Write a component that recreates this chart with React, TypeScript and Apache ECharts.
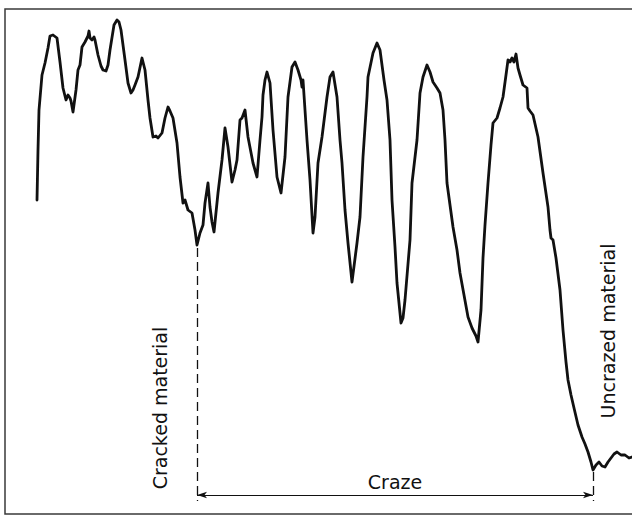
import React, { useEffect, useRef } from "react";
import * as echarts from "echarts";

// Trace of the craze profile: [position, depth below the frame top]
const profile: [number, number][] = [
  [37, 200], [38, 150], [39, 110], [42, 75], [45, 63], [48, 48], [50, 36], [53, 35], [57, 38],
  [60, 62], [63, 88], [66, 100], [68, 95], [70, 98], [71, 101], [73, 112], [76, 90], [78, 70],
  [80, 65], [82, 47], [85, 42], [88, 36], [89, 31], [90, 38], [92, 40], [94, 37], [95, 40],
  [98, 55], [101, 66], [103, 70], [106, 71], [108, 65], [110, 50], [114, 25], [117, 20],
  [119, 22], [121, 30], [123, 45], [125, 60], [128, 83], [131, 93], [133, 90], [135, 85],
  [138, 77], [142, 58], [145, 70], [148, 100], [150, 118], [153, 137], [156, 136], [158, 138],
  [162, 133], [165, 118], [168, 107], [170, 111], [173, 118], [177, 143], [180, 177],
  [183, 203], [185, 200], [188, 210], [192, 213], [195, 230], [197, 245], [200, 233],
  [203, 225], [205, 203], [208, 183], [210, 207], [212, 222], [214, 232], [218, 193],
  [222, 160], [225, 128], [228, 147], [232, 182], [235, 170], [237, 160], [240, 120],
  [242, 118], [245, 110], [248, 137], [253, 163], [257, 177], [260, 140], [262, 117],
  [263, 95], [265, 80], [267, 72], [270, 83], [273, 130], [277, 177], [281, 193], [285, 157],
  [288, 97], [292, 67], [295, 62], [298, 70], [301, 80], [302, 87], [303, 80], [305, 110],
  [307, 140], [310, 180], [313, 233], [315, 217], [318, 163], [322, 137], [327, 97],
  [330, 77], [333, 72], [337, 97], [340, 140], [342, 163], [345, 210], [348, 243], [352, 282],
  [357, 243], [360, 217], [363, 157], [367, 97], [368, 77], [373, 53], [377, 43], [380, 50],
  [384, 80], [387, 100], [390, 140], [392, 200], [395, 247], [397, 283], [401, 323],
  [403, 318], [405, 300], [410, 240], [412, 183], [417, 140], [420, 93], [423, 77], [427, 65],
  [430, 72], [433, 82], [437, 88], [440, 93], [443, 110], [445, 140], [447, 183], [450, 205],
  [453, 227], [457, 250], [460, 273], [464, 295], [468, 317], [472, 328], [476, 336],
  [478, 342], [481, 310], [483, 258], [485, 225], [488, 183], [491, 145], [493, 123],
  [497, 118], [500, 108], [503, 97], [506, 75], [508, 60], [510, 62], [512, 58], [514, 62],
  [516, 54], [518, 68], [520, 75], [523, 85], [527, 88], [528, 108], [530, 111], [533, 115],
  [538, 137], [543, 173], [548, 207], [550, 230], [551, 238], [553, 240], [556, 258],
  [560, 290], [563, 330], [566, 362], [568, 380], [571, 395], [574, 408], [578, 425],
  [582, 437], [585, 444], [588, 452], [591, 462], [593, 470], [596, 465], [599, 462],
  [602, 466], [605, 467], [608, 462], [611, 458], [614, 454], [617, 452], [621, 455],
  [625, 455], [629, 458], [632, 457],
];

// Boundaries of the craze zone (cracked side, uncrazed side)
const crazeBounds = [197, 593];
const boundaryTops = [248, 472];
const dimensionLevel = 495;
const boundaryBottom = 501;

const zoneLabels = ["Cracked material", "Craze", "Uncrazed material"];

export default function App() {
  const ref = useRef<HTMLDivElement>(null);

  useEffect(() => {
    if (!ref.current) return;
    const chart = echarts.init(ref.current, null, { renderer: "svg" });
    const font = "DejaVu Sans";

    chart.setOption({
      animation: false,
      backgroundColor: "#ffffff",
      grid: { left: 0, right: 0, top: 0, bottom: 0 },
      xAxis: { type: "value", min: 0, max: 632, show: false },
      yAxis: { type: "value", min: 0, max: 516, inverse: true, show: false },
      graphic: [
        {
          type: "rect",
          shape: { x: 5, y: 9, width: 640, height: 505 },
          style: { fill: "none", stroke: "#3a3a3a", lineWidth: 1.5 },
          silent: true,
        },
        {
          type: "text",
          x: 160,
          y: 408,
          rotation: Math.PI / 2,
          style: {
            text: zoneLabels[0],
            font: `19px "${font}"`,
            fill: "#111",
            align: "center",
            verticalAlign: "middle",
          },
        },
        {
          type: "text",
          x: 608,
          y: 331,
          rotation: Math.PI / 2,
          style: {
            text: zoneLabels[2],
            font: `19px "${font}"`,
            fill: "#111",
            align: "center",
            verticalAlign: "middle",
          },
        },
      ],
      series: [
        {
          type: "line",
          data: profile,
          showSymbol: false,
          lineStyle: { color: "#111", width: 2.8, join: "round", cap: "round" },
          silent: true,
          markLine: {
            silent: true,
            animation: false,
            symbol: ["none", "none"],
            label: { show: false },
            data: [
              [
                { coord: [crazeBounds[0], boundaryTops[0]], lineStyle: { type: [9, 5], color: "#111", width: 1.3 } },
                { coord: [crazeBounds[0], boundaryBottom] },
              ],
              [
                { coord: [crazeBounds[1], boundaryTops[1]], lineStyle: { type: [9, 5], color: "#111", width: 1.3 } },
                { coord: [crazeBounds[1], boundaryBottom] },
              ],
              [
                {
                  coord: [crazeBounds[0], dimensionLevel],
                  symbol: "arrow",
                  symbolSize: [5, 10],
                  lineStyle: { type: "solid", color: "#111", width: 1.1 },
                  label: {
                    show: true,
                    position: "middle",
                    formatter: zoneLabels[1],
                    fontFamily: font,
                    fontSize: 19,
                    color: "#111",
                    distance: 4,
                  },
                },
                { coord: [crazeBounds[1], dimensionLevel], symbol: "arrow", symbolSize: [5, 10] },
              ],
            ],
          },
        },
      ],
    });

    return () => chart.dispose();
  }, []);

  return (
    <div
      ref={ref}
      style={{ position: "fixed", left: 0, top: 0, width: 632, height: 516 }}
    />
  );
}
